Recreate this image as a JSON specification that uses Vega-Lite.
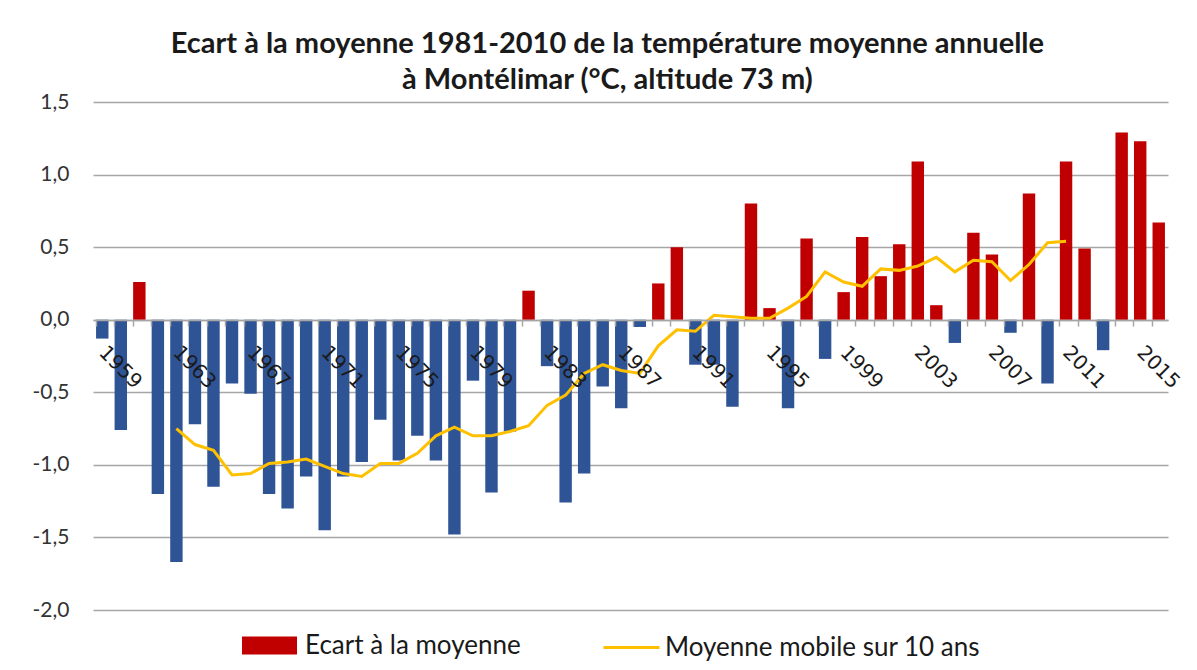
{
  "$schema": "https://vega.github.io/schema/vega-lite/v6.json",
  "width": 1075,
  "height": 508,
  "autosize": {"type": "none"},
  "padding": {"left": 93, "top": 102, "right": 29, "bottom": 60},
  "background": "white",
  "config": {"view": {"stroke": null}},
  "title": {
    "text": ["Ecart à la moyenne 1981-2010 de la température moyenne annuelle", "à Montélimar (°C, altitude 73 m)"],
    "font": "Lato",
    "fontWeight": "bold",
    "fontSize": 29,
    "lineHeight": 36,
    "color": "#1a1a1a",
    "anchor": "middle",
    "frame": "bounds",
    "offset": -4
  },
  "datasets": {
    "barres": [
      {"annee": 1959, "valeur": -0.13}, {"annee": 1960, "valeur": -0.76}, {"annee": 1961, "valeur": 0.26},
      {"annee": 1962, "valeur": -1.2}, {"annee": 1963, "valeur": -1.67}, {"annee": 1964, "valeur": -0.72},
      {"annee": 1965, "valeur": -1.15}, {"annee": 1966, "valeur": -0.44}, {"annee": 1967, "valeur": -0.51},
      {"annee": 1968, "valeur": -1.2}, {"annee": 1969, "valeur": -1.3}, {"annee": 1970, "valeur": -1.08},
      {"annee": 1971, "valeur": -1.45}, {"annee": 1972, "valeur": -1.08}, {"annee": 1973, "valeur": -0.98},
      {"annee": 1974, "valeur": -0.69}, {"annee": 1975, "valeur": -0.97}, {"annee": 1976, "valeur": -0.8},
      {"annee": 1977, "valeur": -0.97}, {"annee": 1978, "valeur": -1.48}, {"annee": 1979, "valeur": -0.42},
      {"annee": 1980, "valeur": -1.19}, {"annee": 1981, "valeur": -0.77}, {"annee": 1982, "valeur": 0.2},
      {"annee": 1983, "valeur": -0.32}, {"annee": 1984, "valeur": -1.26}, {"annee": 1985, "valeur": -1.06},
      {"annee": 1986, "valeur": -0.46}, {"annee": 1987, "valeur": -0.61}, {"annee": 1988, "valeur": -0.05},
      {"annee": 1989, "valeur": 0.25}, {"annee": 1990, "valeur": 0.5}, {"annee": 1991, "valeur": -0.31},
      {"annee": 1992, "valeur": -0.31}, {"annee": 1993, "valeur": -0.6}, {"annee": 1994, "valeur": 0.8},
      {"annee": 1995, "valeur": 0.08}, {"annee": 1996, "valeur": -0.61}, {"annee": 1997, "valeur": 0.56},
      {"annee": 1998, "valeur": -0.27}, {"annee": 1999, "valeur": 0.19}, {"annee": 2000, "valeur": 0.57},
      {"annee": 2001, "valeur": 0.3}, {"annee": 2002, "valeur": 0.52}, {"annee": 2003, "valeur": 1.09},
      {"annee": 2004, "valeur": 0.1}, {"annee": 2005, "valeur": -0.16}, {"annee": 2006, "valeur": 0.6},
      {"annee": 2007, "valeur": 0.45}, {"annee": 2008, "valeur": -0.09}, {"annee": 2009, "valeur": 0.87},
      {"annee": 2010, "valeur": -0.44}, {"annee": 2011, "valeur": 1.09}, {"annee": 2012, "valeur": 0.49},
      {"annee": 2013, "valeur": -0.21}, {"annee": 2014, "valeur": 1.29}, {"annee": 2015, "valeur": 1.23},
      {"annee": 2016, "valeur": 0.67}
    ],
    "moyenne": [
      {"annee": 1963, "valeur": -0.75}, {"annee": 1964, "valeur": -0.86}, {"annee": 1965, "valeur": -0.9},
      {"annee": 1966, "valeur": -1.07}, {"annee": 1967, "valeur": -1.06}, {"annee": 1968, "valeur": -0.99},
      {"annee": 1969, "valeur": -0.98}, {"annee": 1970, "valeur": -0.96}, {"annee": 1971, "valeur": -1.01},
      {"annee": 1972, "valeur": -1.06}, {"annee": 1973, "valeur": -1.08}, {"annee": 1974, "valeur": -0.99},
      {"annee": 1975, "valeur": -0.99}, {"annee": 1976, "valeur": -0.92}, {"annee": 1977, "valeur": -0.8},
      {"annee": 1978, "valeur": -0.74}, {"annee": 1979, "valeur": -0.8}, {"annee": 1980, "valeur": -0.8},
      {"annee": 1981, "valeur": -0.77}, {"annee": 1982, "valeur": -0.73}, {"annee": 1983, "valeur": -0.59},
      {"annee": 1984, "valeur": -0.52}, {"annee": 1985, "valeur": -0.37}, {"annee": 1986, "valeur": -0.31},
      {"annee": 1987, "valeur": -0.35}, {"annee": 1988, "valeur": -0.37}, {"annee": 1989, "valeur": -0.18},
      {"annee": 1990, "valeur": -0.07}, {"annee": 1991, "valeur": -0.08}, {"annee": 1992, "valeur": 0.03},
      {"annee": 1993, "valeur": 0.02}, {"annee": 1994, "valeur": 0.01}, {"annee": 1995, "valeur": 0.01},
      {"annee": 1996, "valeur": 0.08}, {"annee": 1997, "valeur": 0.16}, {"annee": 1998, "valeur": 0.33},
      {"annee": 1999, "valeur": 0.26}, {"annee": 2000, "valeur": 0.23}, {"annee": 2001, "valeur": 0.35},
      {"annee": 2002, "valeur": 0.34}, {"annee": 2003, "valeur": 0.37}, {"annee": 2004, "valeur": 0.43},
      {"annee": 2005, "valeur": 0.33}, {"annee": 2006, "valeur": 0.41}, {"annee": 2007, "valeur": 0.4},
      {"annee": 2008, "valeur": 0.27}, {"annee": 2009, "valeur": 0.38}, {"annee": 2010, "valeur": 0.53},
      {"annee": 2011, "valeur": 0.54}
    ]
  },
  "encoding": {
    "x": {
      "field": "annee",
      "type": "ordinal",
      "scale": {"type": "band", "paddingInner": 0.33, "paddingOuter": 0.165},
      "axis": {
        "title": null,
        "offset": -290,
        "zindex": 1,
        "bandPosition": 0,
        "grid": false,
        "domainColor": "#A6A6A6",
        "domainWidth": 1.5,
        "tickColor": "#A6A6A6",
        "tickWidth": 1.5,
        "tickSize": 6,
        "labelAngle": 45,
        "labelAlign": "left",
        "labelBaseline": "top",
        "labelOffset": 7,
        "labelPadding": 16,
        "labelFont": "DejaVu Sans",
        "labelFontSize": 20,
        "labelColor": "#1a1a1a",
        "labelOverlap": false,
        "labelBound": false,
        "labelExpr": "(datum.value - 1959) % 4 === 0 ? datum.label : ''"
      }
    },
    "y": {
      "field": "valeur",
      "type": "quantitative",
      "scale": {"domain": [-2, 1.5], "nice": false, "zero": false},
      "axis": {
        "title": null,
        "values": [-2, -1.5, -1, -0.5, 0, 0.5, 1, 1.5],
        "labelExpr": "replace(replace(format(datum.value, '.1f'), '.', ','), '−', '-')",
        "domain": false,
        "ticks": false,
        "grid": true,
        "gridColor": "#A6A6A6",
        "gridWidth": 1.5,
        "labelFont": "Lato",
        "labelFontSize": 21,
        "labelColor": "#333333",
        "labelPadding": 24
      }
    }
  },
  "layer": [
    {
      "data": {"name": "barres"},
      "mark": {"type": "bar"},
      "encoding": {
        "fill": {
          "condition": {"test": "datum.valeur < 0", "value": "#2E5496"},
          "datum": "Ecart à la moyenne",
          "type": "nominal",
          "scale": {"range": ["#C00000"]},
          "legend": {
            "orient": "none",
            "legendX": 149,
            "legendY": 516,
            "title": null,
            "padding": 0,
            "symbolType": "M-1,-0.33H1V0.33H-1Z",
            "symbolSize": 3025,
            "symbolStrokeWidth": 0,
            "labelFont": "Lato",
            "labelFontSize": 26,
            "labelColor": "#1a1a1a",
            "labelOffset": 8,
            "labelLimit": 0
          }
        }
      }
    },
    {
      "data": {"name": "moyenne"},
      "mark": {"type": "line", "strokeWidth": 3},
      "encoding": {
        "stroke": {
          "datum": "Moyenne mobile sur 10 ans",
          "type": "nominal",
          "scale": {"range": ["#FFC000"]},
          "legend": {
            "orient": "none",
            "legendX": 509,
            "legendY": 516,
            "title": null,
            "padding": 0,
            "symbolType": "stroke",
            "symbolSize": 3136,
            "symbolStrokeWidth": 3,
            "labelFont": "Lato",
            "labelFontSize": 26,
            "labelColor": "#1a1a1a",
            "labelOffset": 4,
            "labelLimit": 0
          }
        }
      }
    }
  ]
}
